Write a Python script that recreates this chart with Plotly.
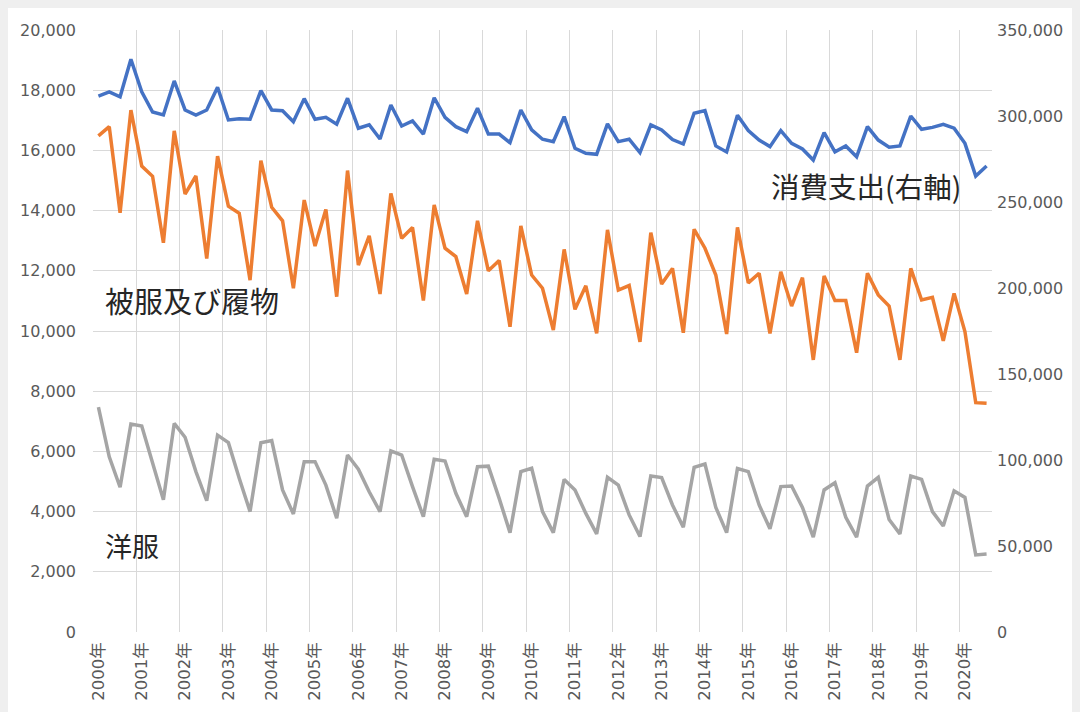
import plotly.graph_objects as go

# ---- categories (quarterly, 2000Q1 .. 2020Q3) ----
periods = [f"{y}-Q{q}" for y in range(2000, 2021) for q in range(1, 5)][:83]
x_idx = list(range(len(periods)))
year_tick_idx = [i for i, p in enumerate(periods) if p.endswith("Q1")]
year_tick_text = [p[:4] + "年" for p in periods if p.endswith("Q1")]

# ---- series values ----
consumption = [  # 消費支出 (right axis)
    311600, 314000, 311200, 333000, 314100, 302300, 300600, 320400, 303500, 300600,
    303500, 316700, 297700, 298400, 298100, 314700, 303500, 303100, 296700, 310100,
    298100, 299200, 295200, 310300, 292900, 294900, 286600, 306400, 294200, 297100,
    289500, 310600, 299200, 293800, 290900, 304500, 289500, 289500, 284500, 303500,
    291900, 286500, 285100, 299600, 281200, 278300, 277700, 295400, 285100, 286500,
    278700, 294800, 291900, 286300, 283700, 301600, 303100, 282600, 279100, 300400,
    291500, 286000, 282200, 291500, 284100, 280800, 274400, 290300, 279200, 282600,
    276300, 293800, 286000, 281800, 282600, 300000, 292300, 293400, 295200, 292900,
    284100, 265100, 270900,
]
clothing_footwear = [  # 被服及び履物
    16480, 16790, 13930, 17340, 15480, 15140, 12930, 16650, 14550, 15150,
    12410, 15810, 14150, 13910, 11690, 15660, 14110, 13660, 11420, 14350,
    12820, 14040, 11140, 15330, 12190, 13160, 11230, 14570, 13080, 13440,
    11010, 14190, 12750, 12470, 11230, 13660, 12000, 12340, 10140, 13490,
    11860, 11420, 10030, 12710, 10720, 11500, 9920, 13360, 11360, 11510,
    9640, 13270, 11560, 12080, 9940, 13380, 12750, 11860, 9900, 13440,
    11600, 11920, 9920, 11970, 10830, 11770, 9040, 11830, 11010, 11010,
    9280, 11920, 11200, 10830, 9040, 12080, 11030, 11120, 9670, 11250,
    9980, 7620, 7600,
]
western_clothes = [  # 洋服
    7470, 5820, 4810, 6910, 6840, 5580, 4390, 6930, 6470, 5330,
    4360, 6540, 6290, 5110, 4000, 6290, 6360, 4720, 3920, 5660,
    5660, 4880, 3780, 5880, 5410, 4660, 4000, 6020, 5880, 4830,
    3830, 5740, 5680, 4610, 3830, 5490, 5510, 4440, 3300, 5330,
    5440, 4000, 3300, 5070, 4720, 3940, 3260, 5140, 4880, 3890,
    3170, 5180, 5130, 4220, 3480, 5470, 5580, 4140, 3300, 5430,
    5330, 4220, 3430, 4830, 4850, 4140, 3150, 4720, 4960, 3810,
    3150, 4850, 5140, 3740, 3260, 5180, 5070, 4000, 3520, 4690,
    4470, 2560, 2590,
]

left_range = [0, 20000]
right_range = [0, 350000]

BLUE = "#4472C4"
ORANGE = "#ED7D31"
GRAY = "#A5A5A5"
GRID = "#D9D9D9"
TICK = "#595959"
TICK_FONT = "DejaVu Sans, Noto Sans CJK JP"
LABEL_FONT = "Noto Sans CJK JP"

fig = go.Figure()
fig.add_trace(go.Scatter(x=x_idx, y=western_clothes, mode="lines", name="洋服",
                         line=dict(color=GRAY, width=3.5)))
fig.add_trace(go.Scatter(x=x_idx, y=clothing_footwear, mode="lines", name="被服及び履物",
                         line=dict(color=ORANGE, width=3.5)))
fig.add_trace(go.Scatter(x=x_idx, y=consumption, mode="lines", name="消費支出(右軸)",
                         line=dict(color=BLUE, width=3.5), yaxis="y2"))

fig.update_layout(
    width=1072, height=704,
    margin=dict(l=85, r=88, t=22, b=80),
    paper_bgcolor="white", plot_bgcolor="white",
    showlegend=False,
    font=dict(family=TICK_FONT, color=TICK, size=16),
    xaxis=dict(
        range=[-0.5, len(periods) - 0.5],
        tickmode="array", tickvals=year_tick_idx, ticktext=year_tick_text,
        tickangle=-90, showgrid=False, zeroline=False,
        showline=False, ticks="", ticklabelstandoff=6,
        tickfont=dict(family=TICK_FONT, size=16.5, color=TICK),
        minor=dict(tick0=-0.5, dtick=4, showgrid=True, gridcolor=GRID, gridwidth=1),
    ),
    yaxis=dict(
        range=left_range, dtick=2000, tickformat=",d",
        showgrid=True, gridcolor=GRID, gridwidth=1, zeroline=False,
        showline=False, ticks="", ticklabelstandoff=16,
        tickfont=dict(family=TICK_FONT, size=16, color=TICK),
    ),
    yaxis2=dict(
        range=right_range, dtick=50000, tickformat=",d",
        overlaying="y", side="right", showgrid=False, zeroline=False,
        showline=False, ticks="", ticklabelstandoff=4,
        tickfont=dict(family=TICK_FONT, size=16, color=TICK),
    ),
    annotations=[
        dict(text="消費支出(右軸)", xref="paper", yref="paper", x=0.752, y=0.7425,
             xanchor="left", yanchor="middle", showarrow=False,
             font=dict(family=LABEL_FONT, size=28.5, color="#262626")),
        dict(text="被服及び履物", xref="paper", yref="paper", x=0.0108, y=0.5515,
             xanchor="left", yanchor="middle", showarrow=False,
             font=dict(family=LABEL_FONT, size=29, color="#262626")),
        dict(text="洋服", xref="paper", yref="paper", x=0.0108, y=0.1445,
             xanchor="left", yanchor="middle", showarrow=False,
             font=dict(family=LABEL_FONT, size=27, color="#262626")),
    ],
)

fig.write_html("out.html",
               post_script="document.body.style.background='#EFEFEF';")
